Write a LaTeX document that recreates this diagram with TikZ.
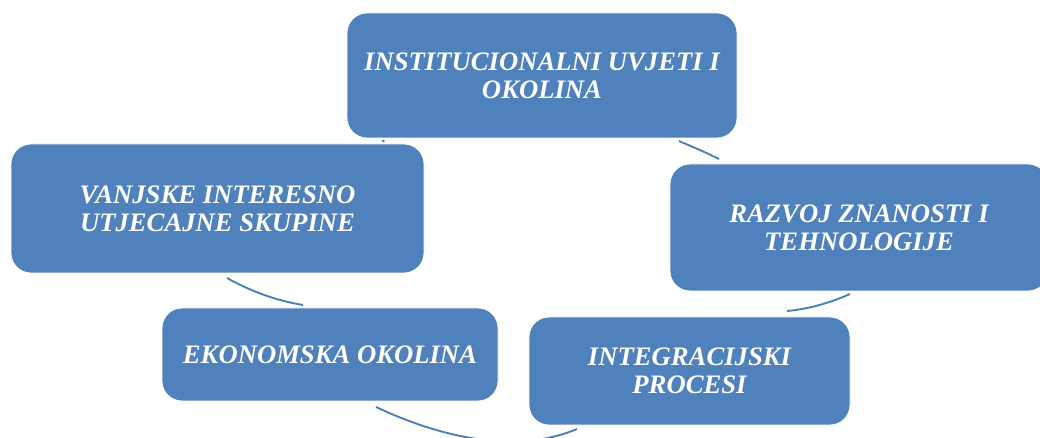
\documentclass[tikz,border=0pt]{standalone}
\usepackage{fontspec}
\setmainfont{Liberation Serif}
\definecolor{boxblue}{HTML}{4F81BD}
\definecolor{arcblue}{HTML}{4A7EBB}
\tikzset{
  cyclebox/.style={draw=white, line width=0.6pt, fill=boxblue, rounded corners=15pt,
    text=white, align=center, inner sep=0pt,
    font=\bfseries\itshape\fontsize{20}{21}\selectfont},
  cyclearc/.style={draw=arcblue, line width=1.4pt}
}
\begin{document}
\begin{tikzpicture}[x=0.75pt,y=-0.75pt]
\clip (0,0) rectangle (1040,438);
% The five boxes of the cycle
\node[cyclebox,minimum width=292.5pt,minimum height=93.75pt] (inst) at (542,75.5) {INSTITUCIONALNI UVJETI I\\OKOLINA};
\node[cyclebox,minimum width=283.5pt,minimum height=95.25pt] (razvoj) at (859,227.5) {RAZVOJ ZNANOSTI I\\TEHNOLOGIJE};
\node[cyclebox,minimum width=240.75pt,minimum height=81pt] (integ) at (689.5,371) {INTEGRACIJSKI\\PROCESI};
\node[cyclebox,minimum width=252pt,minimum height=69.75pt] (ekon) at (330,354.5) {EKONOMSKA OKOLINA};
\node[cyclebox,minimum width=309.75pt,minimum height=96.75pt] (vanj) at (217.5,208.5) {VANJSKE INTERESNO\\UTJECAJNE SKUPINE};

% Ends of the arcs between the boxes
\coordinate (vanj-inst-a) at (382,140.5);
\coordinate (vanj-inst-b) at (384.5,141.5);
\coordinate (inst-razvoj-a) at (679,141);
\coordinate (inst-razvoj-b) at (719,159);
\coordinate (razvoj-integ-a) at (850,294);
\coordinate (razvoj-integ-b) at (787,311);
\coordinate (integ-ekon-a) at (577,429);
\coordinate (integ-ekon-b) at (376,407);
\coordinate (ekon-vanj-a) at (303,305);
\coordinate (ekon-vanj-b) at (227,278);

% Arcs of the cycle
\draw[cyclearc] (vanj-inst-a) -- (vanj-inst-b);
\draw[cyclearc] (inst-razvoj-a) .. controls (693,147) and (706,152.5) .. (inst-razvoj-b);
\draw[cyclearc] (razvoj-integ-a) .. controls (832,302) and (810,309) .. (razvoj-integ-b);
\draw[cyclearc] (integ-ekon-a) .. controls (515,455) and (440,437) .. (integ-ekon-b);
\draw[cyclearc] (ekon-vanj-a) .. controls (278,301) and (252,292) .. (ekon-vanj-b);
\end{tikzpicture}
\end{document}
